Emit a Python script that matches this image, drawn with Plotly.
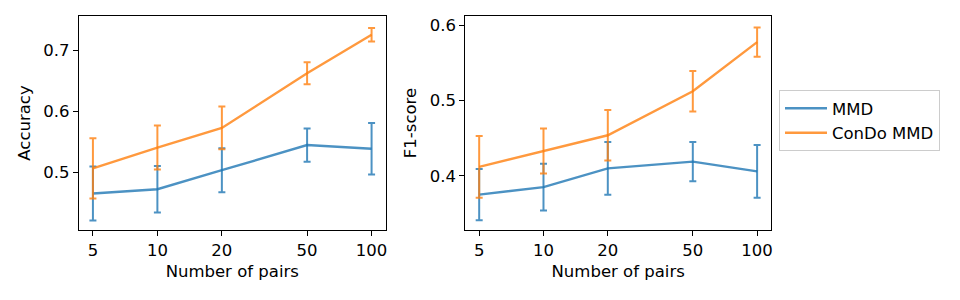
import plotly.graph_objects as go

pairs = [5, 10, 20, 50, 100]
tick_labels = ["5", "10", "20", "50", "100"]

acc_mmd = [0.466, 0.473, 0.504, 0.545, 0.539]
acc_mmd_err = [0.044, 0.038, 0.036, 0.027, 0.042]
acc_condo = [0.507, 0.541, 0.573, 0.662, 0.725]
acc_condo_err = [0.049, 0.036, 0.035, 0.018, 0.011]

f1_mmd = [0.375, 0.385, 0.410, 0.419, 0.406]
f1_mmd_err = [0.034, 0.031, 0.035, 0.026, 0.035]
f1_condo = [0.412, 0.433, 0.454, 0.5125, 0.578]
f1_condo_err = [0.041, 0.030, 0.0335, 0.027, 0.0195]

BLUE = "rgba(31,119,180,0.8)"
ORANGE = "rgba(255,127,14,0.8)"
FONT = "DejaVu Sans"
FS = 16.5

fig = go.Figure()

def add(y, err, color, name, xa, ya, show):
    fig.add_trace(go.Scatter(
        x=pairs, y=y, mode="lines", name=name, showlegend=show,
        line=dict(color=color, width=2.4),
        error_y=dict(type="data", array=err, visible=True, color=color,
                     thickness=2, width=3.5),
        xaxis=xa, yaxis=ya, legendgroup=name,
    ))

add(acc_mmd, acc_mmd_err, BLUE, "MMD", "x", "y", True)
add(acc_condo, acc_condo_err, ORANGE, "ConDo MMD", "x", "y", True)
add(f1_mmd, f1_mmd_err, BLUE, "MMD", "x2", "y2", False)
add(f1_condo, f1_condo_err, ORANGE, "ConDo MMD", "x2", "y2", False)

W, H = 960, 300
top = 1 - 16 / H
bot = 1 - 230 / H

axis_common = dict(
    showline=True, linecolor="black", linewidth=1.2, mirror=True,
    ticks="outside", ticklen=5, tickwidth=1.2, tickcolor="black",
    showgrid=False, zeroline=False,
    tickfont=dict(family=FONT, size=FS, color="black"),
    automargin=False,
)

xcommon = dict(axis_common, type="log", range=[0.634, 2.065],
               tickvals=pairs, ticktext=tick_labels,
               title=dict(text="Number of pairs", font=dict(family=FONT, size=FS, color="black"), standoff=6))

fig.update_layout(
    width=W, height=H,
    margin=dict(l=0, r=0, t=0, b=0),
    paper_bgcolor="white", plot_bgcolor="white",
    font=dict(family=FONT, size=FS, color="black"),
    xaxis=dict(xcommon, domain=[79 / W, 385.5 / W], anchor="y"),
    xaxis2=dict(xcommon, domain=[465.3 / W, 771 / W], anchor="y2"),
    yaxis=dict(axis_common, domain=[bot, top], range=[0.4065, 0.7555], anchor="x",
               tickvals=[0.5, 0.6, 0.7], tickformat=".1f",
               title=dict(text="Accuracy", font=dict(family=FONT, size=FS, color="black"), standoff=8)),
    yaxis2=dict(axis_common, domain=[bot, top], range=[0.328, 0.6127], anchor="x2",
                tickvals=[0.4, 0.5, 0.6], tickformat=".1f",
                title=dict(text="F1-score", font=dict(family=FONT, size=FS, color="black"), standoff=8)),
    legend=dict(x=779 / W, y=1 - 90 / H, xanchor="left", yanchor="top",
                bordercolor="#cccccc", borderwidth=1, bgcolor="white",
                font=dict(family=FONT, size=FS, color="black"),
                itemwidth=42, tracegroupgap=0),
)

fig.write_html("out.html", config={"displayModeBar": False},
               post_script="document.body.style.margin='0';document.body.style.overflow='hidden';")
